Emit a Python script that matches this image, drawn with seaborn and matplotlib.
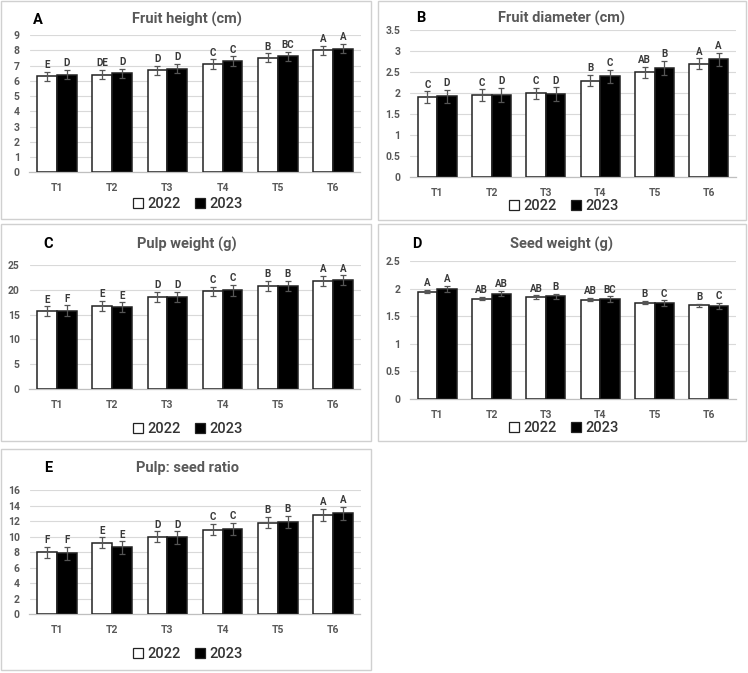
import matplotlib
matplotlib.use("Agg")
import matplotlib.pyplot as plt
from matplotlib.patches import Rectangle
from matplotlib.lines import Line2D
import seaborn as sns
import pandas as pd

sns.set_theme(style="white")
plt.rcParams['font.family'] = ['Roboto', 'DejaVu Sans']

treatments = ['T1', 'T2', 'T3', 'T4', 'T5', 'T6']
years = ['2022', '2023']

height_2022 = [6.3, 6.4, 6.7, 7.1, 7.5, 8.0]
height_2023 = [6.4, 6.5, 6.8, 7.3, 7.6, 8.1]
height_err_2022 = [0.3, 0.3, 0.3, 0.3, 0.3, 0.3]
height_err_2023 = [0.3, 0.3, 0.3, 0.3, 0.3, 0.3]
height_let_2022 = ['E', 'DE', 'D', 'C', 'B', 'A']
height_let_2023 = ['D', 'D', 'D', 'C', 'BC', 'A']

diam_2022 = [1.90, 1.95, 2.00, 2.30, 2.50, 2.70]
diam_2023 = [1.92, 1.96, 1.98, 2.40, 2.60, 2.80]
diam_err_2022 = [0.14, 0.14, 0.13, 0.13, 0.13, 0.13]
diam_err_2023 = [0.16, 0.16, 0.16, 0.15, 0.16, 0.16]
diam_let_2022 = ['C', 'C', 'C', 'B', 'AB', 'A']
diam_let_2023 = ['D', 'D', 'D', 'C', 'B', 'A']

pulp_2022 = [15.7, 16.8, 18.6, 19.7, 20.8, 21.8]
pulp_2023 = [15.8, 16.5, 18.6, 19.9, 20.8, 22.0]
pulp_err_2022 = [1.0, 1.0, 1.0, 1.0, 1.0, 1.0]
pulp_err_2023 = [1.1, 1.0, 1.0, 1.1, 1.0, 1.0]
pulp_let_2022 = ['E', 'E', 'D', 'C', 'B', 'A']
pulp_let_2023 = ['F', 'E', 'D', 'C', 'B', 'A']

seed_2022 = [1.95, 1.82, 1.85, 1.80, 1.75, 1.70]
seed_2023 = [2.00, 1.91, 1.86, 1.81, 1.74, 1.69]
seed_err_2022 = [0.03, 0.03, 0.03, 0.03, 0.03, 0.03]
seed_err_2023 = [0.05, 0.05, 0.05, 0.05, 0.05, 0.05]
seed_let_2022 = ['A', 'AB', 'AB', 'AB', 'B', 'B']
seed_let_2023 = ['A', 'AB', 'B', 'BC', 'C', 'C']

ratio_2022 = [8.0, 9.2, 10.0, 10.9, 11.8, 12.8]
ratio_2023 = [7.85, 8.6, 9.9, 11.0, 11.9, 13.0]
ratio_err_2022 = [0.7, 0.7, 0.7, 0.75, 0.75, 0.75]
ratio_err_2023 = [0.8, 0.8, 0.8, 0.8, 0.8, 0.85]
ratio_let_2022 = ['F', 'E', 'D', 'C', 'B', 'A']
ratio_let_2023 = ['F', 'E', 'D', 'C', 'B', 'A']

W, H = 748, 673
fig = plt.figure(figsize=(W / 100, H / 100), dpi=100)

GRAY = '#595959'


def fx(px):
    return px / W


def fy(py):
    return 1 - py / H


# panel boxes (pixel coords: x0, y0, x1, y1)
boxes = [(1, 1, 371, 219), (378, 1, 746, 220), (1, 224, 371, 441),
         (378, 224, 746, 441), (1, 449, 371, 670)]
for x0, y0, x1, y1 in boxes:
    fig.add_artist(Rectangle((fx(x0), fy(y1)), fx(x1) - fx(x0), fy(y0) - fy(y1),
                             transform=fig.transFigure, fill=False,
                             edgecolor='#d0d0d0', lw=1.0))

panels = [
    dict(letter='A', title='Fruit height (cm)', v=(height_2022, height_2023),
         e=(height_err_2022, height_err_2023), l=(height_let_2022, height_let_2023),
         ymax=9, step=1, ax=(29.5, 360.5, 35, 172.3), leg=(188, 204),
         tpos=(187, 19), lpos=(38, 20), fmt='{:g}'),
    dict(letter='B', title='Fruit diameter (cm)', v=(diam_2022, diam_2023),
         e=(diam_err_2022, diam_err_2023), l=(diam_let_2022, diam_let_2023),
         ymax=3.5, step=0.5, ax=(410, 736, 30, 177.3), leg=(564, 206),
         tpos=(562, 18), lpos=(421, 18), fmt='{:g}'),
    dict(letter='C', title='Pulp weight (g)', v=(pulp_2022, pulp_2023),
         e=(pulp_err_2022, pulp_err_2023), l=(pulp_let_2022, pulp_let_2023),
         ymax=25, step=5, ax=(29.5, 360.5, 265.3, 388.7), leg=(188, 429),
         tpos=(187, 244), lpos=(48, 244), fmt='{:g}'),
    dict(letter='D', title='Seed weight (g)', v=(seed_2022, seed_2023),
         e=(seed_err_2022, seed_err_2023), l=(seed_let_2022, seed_let_2023),
         ymax=2.5, step=0.5, ax=(410, 736, 261.3, 398.7), leg=(564, 428),
         tpos=(562, 244), lpos=(417, 244), fmt='{:g}'),
    dict(letter='E', title='Pulp: seed ratio', v=(ratio_2022, ratio_2023),
         e=(ratio_err_2022, ratio_err_2023), l=(ratio_let_2022, ratio_let_2023),
         ymax=16, step=2, ax=(29.5, 360.5, 490, 614.3), leg=(188, 654),
         tpos=(187, 468), lpos=(48, 468), fmt='{:g}'),
]

for p in panels:
    x0, x1, yt, yb = p['ax']
    ax = fig.add_axes([fx(x0), fy(yb), fx(x1) - fx(x0), fy(yt) - fy(yb)])
    df = pd.DataFrame({
        'Treatment': treatments * 2,
        'Year': [years[0]] * 6 + [years[1]] * 6,
        'Value': list(p['v'][0]) + list(p['v'][1]),
    })
    sns.barplot(data=df, x='Treatment', y='Value', hue='Year', order=treatments,
                hue_order=years, palette={'2022': 'white', '2023': 'black'},
                edgecolor='#222222', linewidth=1.1, width=0.72, errorbar=None,
                legend=False, ax=ax, zorder=3)
    bar_conts = list(ax.containers)
    for ci, cont in enumerate(bar_conts):
        errs = p['e'][ci]
        lets = p['l'][ci]
        xs = [b.get_x() + b.get_width() / 2 for b in cont.patches]
        hs = [b.get_height() for b in cont.patches]
        ax.errorbar(xs, hs, yerr=errs, fmt='none', ecolor='#555555', elinewidth=0.9,
                    capsize=2.5, capthick=0.9, zorder=4)
        for x, h, er, lt in zip(xs, hs, errs, lets):
            ax.annotate(lt, (x, h + er), xytext=(0, 1.2), textcoords='offset points',
                        ha='center', va='bottom', fontsize=7, fontweight='bold',
                        color='#3a3a3a')
    ax.set_xlim(-0.5, 5.5)
    ax.set_ylim(0, p['ymax'])
    ticks = []
    t = 0.0
    while t <= p['ymax'] + 1e-9:
        ticks.append(round(t, 3))
        t += p['step']
    ax.set_yticks(ticks)
    ax.set_yticklabels([p['fmt'].format(v) for v in ticks])
    ax.yaxis.grid(True, color='#d9d9d9', lw=0.8)
    ax.set_axisbelow(True)
    for s in ['top', 'right', 'left']:
        ax.spines[s].set_visible(False)
    ax.spines['bottom'].set_color('#bfbfbf')
    ax.spines['bottom'].set_linewidth(0.9)
    ax.tick_params(axis='both', length=0, labelsize=7.5, labelcolor=GRAY)
    ax.tick_params(axis='x', pad=8)
    ax.tick_params(axis='y', pad=7)
    for lab in ax.get_xticklabels() + ax.get_yticklabels():
        lab.set_fontweight('bold')
    ax.set_xlabel('')
    ax.set_ylabel('')

    fig.text(fx(p['tpos'][0]), fy(p['tpos'][1]), p['title'], ha='center', va='center',
             fontsize=10.5, color=GRAY, fontweight='semibold')
    fig.text(fx(p['lpos'][0]), fy(p['lpos'][1]), p['letter'], ha='center', va='center',
             fontsize=10.5, color='black', fontweight='bold')

    handles = [Line2D([0], [0], marker='s', linestyle='none', markersize=6.5,
                      markerfacecolor=c, markeredgecolor='#222222', markeredgewidth=0.9)
               for c in ['white', 'black']]
    fig.legend(handles, years, loc='center', bbox_to_anchor=(fx(p['leg'][0]), fy(p['leg'][1])),
               ncol=2, frameon=False, handletextpad=0.3,
               columnspacing=1.0, handlelength=0.7, labelcolor='#333333',
               borderaxespad=0, borderpad=0,
               prop={'size': 10.5, 'weight': 'medium'})

fig.savefig('out.png', dpi=100)
